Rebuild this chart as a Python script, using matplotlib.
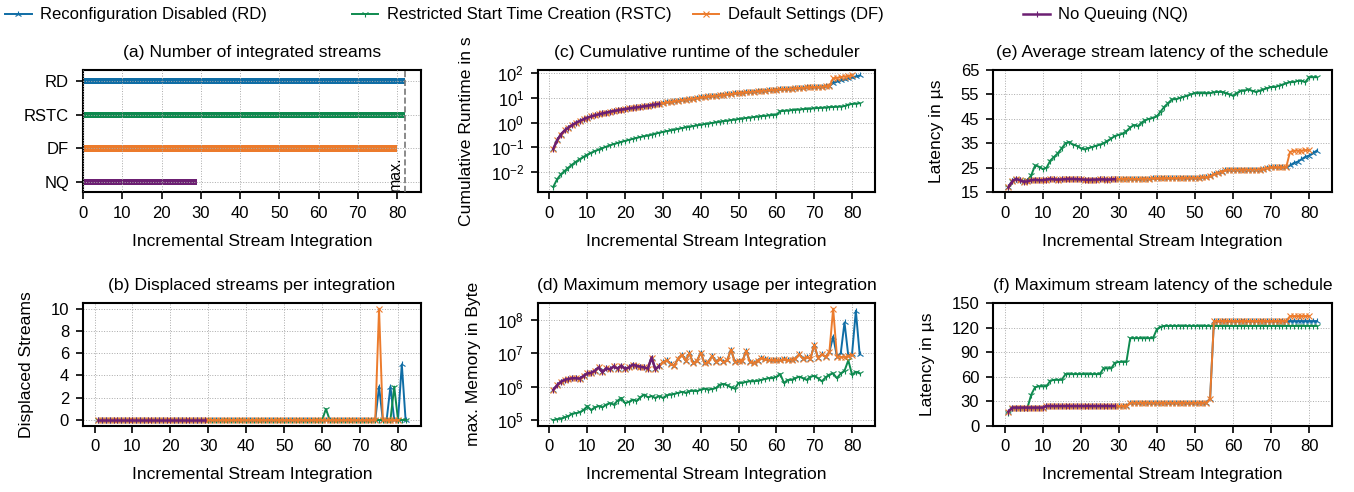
import numpy as np
from matplotlib import pyplot as plt
from matplotlib import font_manager
from matplotlib.ticker import NullLocator

# the reference uses a narrow Helvetica-like face
installed = {f.name for f in font_manager.fontManager.ttflist}
if 'Liberation Sans Narrow' in installed:
    plt.rcParams['font.family'] = ['Liberation Sans Narrow', 'DejaVu Sans']
    fs, fs_tick, fs_leg = 15.3, 14.6, 14.6
else:
    plt.rcParams['font.family'] = ['Liberation Sans', 'DejaVu Sans']
    fs, fs_tick, fs_leg = 12.6, 12, 12
plt.rcParams['font.size'] = fs

# names / colours
labels = ['Reconfiguration Disabled (RD)', 'Restricted Start Time Creation (RSTC)',
          'Default Settings (DF)', 'No Queuing (NQ)']
short = ['RD', 'RSTC', 'DF', 'NQ']
colors = ['#0f6da5', '#0e8a4f', '#ec7b2c', '#6c1f72']
markers = ['2', '1', 'x', '|']

# (a) number of integrated streams
integrated = [82, 82, 80, 29]
max_streams = 82

# (b) displaced streams per integration
rd_disp = [0]*74 + [3, 0, 0, 3, 0, 0, 5, 0]
rstc_disp = [0]*60 + [1] + [0]*17 + [3] + [0]*3
df_disp = [0]*74 + [10] + [0]*5
nq_disp = [0]*29

# (c) cumulative runtime in s
df_runtime = [0.085, 0.19, 0.33, 0.48, 0.63, 0.8, 0.98, 1.17, 1.37, 1.58,
              1.78, 1.98, 2.17, 2.36, 2.56, 2.76, 2.96, 3.15, 3.35, 3.55,
              3.75, 3.95, 4.15, 4.36, 4.6, 4.85, 5.15, 5.45, 5.8, 6.2,
              6.6, 7.0, 7.4, 7.8, 8.2, 8.6, 9.0, 9.5, 10.0, 10.5,
              11.0, 11.5, 12.0, 12.5, 13.0, 13.5, 14.0, 14.6, 15.2, 15.8,
              16.4, 17.0, 17.6, 18.2, 18.8, 19.4, 20.0, 20.6, 21.2, 21.8,
              22.4, 23.0, 23.6, 24.2, 24.8, 25.4, 26.0, 26.6, 27.2, 27.8,
              28.4, 29.0, 29.6, 30.2,
              62, 66, 70, 74, 78, 82]
rd_runtime = df_runtime[:74] + [42, 47, 52, 57, 62, 68, 75, 82]
nq_runtime = df_runtime[:29]
rstc_runtime = [0.0025, 0.005, 0.008, 0.011, 0.015, 0.02, 0.026, 0.033, 0.041, 0.05,
                0.06, 0.07, 0.081, 0.093, 0.106, 0.12, 0.135, 0.15, 0.166, 0.183,
                0.2, 0.22, 0.24, 0.26, 0.28, 0.3, 0.33, 0.36, 0.39, 0.42,
                0.45, 0.48, 0.52, 0.56, 0.6, 0.64, 0.68, 0.72, 0.77, 0.82,
                0.87, 0.92, 0.97, 1.02, 1.08, 1.14, 1.2, 1.26, 1.32, 1.4,
                1.47, 1.54, 1.61, 1.68, 1.75, 1.82, 1.89, 1.96, 2.03, 2.1,
                2.9, 3.0, 3.1, 3.2, 3.3, 3.4, 3.5, 3.6, 3.7, 3.8,
                3.9, 4.0, 4.1, 4.2, 4.3, 4.4, 4.5, 4.7, 5.4, 5.7,
                5.9, 6.1]

# (d) max memory per integration, in MB (1e6 byte)
df_mem = [0.8, 1.1, 1.4, 1.6, 1.7, 1.8, 1.8, 1.75, 2.1, 2.5,
          2.6, 3.0, 3.8, 2.7, 3.6, 3.3, 4.1, 3.5, 4.3, 3.4,
          3.8, 4.6, 4.2, 4.0, 3.8, 3.5, 7.5, 3.3, 4.2, 5.5,
          6.2, 4.8, 4.2, 7.0, 9.2, 6.0, 10.0, 5.0, 6.0, 10.5,
          5.0, 5.5, 8.3, 5.5, 7.0, 5.5, 6.2, 13.0, 5.5, 6.0,
          5.8, 12.0, 5.5, 5.2, 6.0, 7.3, 6.6, 6.4, 6.2, 6.2,
          6.2, 6.6, 6.2, 6.5, 7.0, 9.3, 7.0, 7.8, 7.0, 18.0,
          7.3, 9.3, 7.8, 11.0, 220.0, 8.0, 7.8, 7.8, 8.3, 9.0]
rd_mem = df_mem[:74] + [32.0, 8.0, 10.0, 85.0, 8.5, 9.8, 190.0, 9.5]
nq_mem = df_mem[:29]
rstc_mem = [0.10, 0.105, 0.11, 0.12, 0.13, 0.155, 0.16, 0.17, 0.20, 0.26,
            0.20, 0.24, 0.26, 0.24, 0.29, 0.32, 0.29, 0.38, 0.46, 0.32,
            0.35, 0.41, 0.37, 0.48, 0.58, 0.48, 0.52, 0.46, 0.52, 0.46,
            0.55, 0.58, 0.61, 0.65, 0.70, 0.65, 0.73, 0.76, 0.73, 0.82,
            0.88, 0.82, 0.85, 0.91, 1.15, 1.2, 1.1, 0.95, 0.88, 1.3,
            1.3, 1.4, 1.45, 1.45, 1.5, 1.6, 1.7, 1.8, 1.8, 2.0,
            2.4, 1.3, 1.6, 1.6, 1.8, 2.0, 1.8, 1.6, 2.0, 2.1,
            1.8, 1.45, 1.9, 2.3, 2.5, 1.8, 2.5, 3.0, 6.2, 2.3,
            2.8, 2.5]

# (e) average stream latency in us
df_avg = [17, 19.5, 20.5, 20, 19.3, 19.5, 20, 20.2, 20, 20,
          20.2, 20.5, 20.3, 20.2, 20.3, 20.4, 20.5, 20.5, 20.4, 20.3,
          20.2, 20.1, 20.2, 20.2, 20.3, 20.3, 20.2, 20.3, 20.4, 20.5,
          20.5, 20.6, 20.6, 20.5, 20.5, 20.6, 20.6, 20.6, 20.7, 20.7,
          20.7, 20.8, 20.8, 20.8, 20.9, 20.9, 20.9, 21.0, 21.0, 21.0,
          21.0, 21.1, 21.2, 21.5, 22.5, 23.0, 23.5, 24.0, 24.3, 24.3,
          24.3, 24.3, 24.3, 24.3, 24.3, 24.3, 24.3, 24.5, 25.0, 25.2,
          25.2, 25.2, 25.2, 25.3, 31.5, 32.0, 32.0, 32.0, 32.2, 32.2]
rd_avg = df_avg[:74] + [26.0, 27.0, 27.5, 28.5, 29.5, 30.0, 31.0, 32.0]
nq_avg = df_avg[:29]
rstc_avg = [17, 19.5, 20.5, 20, 19.5, 20, 22, 26, 25.5, 24.5,
            25, 28, 29.5, 31, 33, 35, 35.5, 34.5, 34, 33,
            32.5, 33, 33.5, 34, 34.5, 35, 36, 37, 38, 38.5,
            39, 40, 41.5, 42.5, 42, 43.5, 44.5, 45, 45.5, 46,
            48, 50, 51.5, 53, 53, 53.5, 54, 54.5, 55, 55.5,
            55.5, 55.5, 55.5, 55.5, 55.8, 56, 56, 55.5, 55, 54.5,
            55.5, 56.5, 56.5, 57, 56.5, 56, 56.5, 57, 57.5, 58,
            58, 58.5, 59, 59.5, 60, 60, 60.5, 60.5, 60, 62,
            62, 62]

# (f) maximum stream latency in us
df_max = [17] + [22]*9 + [24]*22 + [28]*21 + [33] + [128]*20 + [134]*6
rd_max = df_max[:74] + [128]*8
nq_max = df_max[:29]
rstc_max = [16, 22, 22, 22, 22, 22, 38, 47, 48, 48, 48, 55, 56, 56, 56,
            63, 63, 63, 63, 63, 63, 63, 63, 63, 63, 70, 70, 70, 77, 78, 78, 78,
            107, 107, 107, 107, 107, 107, 107, 118, 121] + [122]*41


def style(ax, title):
    ax.set_title(title, fontsize=fs, pad=9.5)
    ax.grid(True, linestyle=':', linewidth=0.7, color='#aaaaaa')
    for s in ax.spines.values():
        s.set_linewidth(1.5)
    ax.tick_params(direction='out', length=5, width=1.2, labelsize=fs_tick, pad=5)
    ax.xaxis.labelpad = 9
    ax.yaxis.labelpad = 12


def lines(ax, series, log=False):
    for i, ys in enumerate(series):
        xs = np.arange(1, len(ys) + 1)
        ax.plot(xs, ys, color=colors[i], marker=markers[i], markersize=5,
                markeredgewidth=0.8, linewidth=1.4 if i < 3 else 1.8, label=labels[i])
    if log:
        ax.set_yscale('log')
        ax.yaxis.set_minor_locator(NullLocator())
    ax.set_xticks(range(0, 81, 10))
    ax.set_xlabel('Incremental Stream Integration')


fig = plt.figure(figsize=(13.54, 4.92), dpi=100)
top_b, bot_b, h = 0.609, 0.135, 0.249
ax_a = fig.add_axes([0.0613, top_b, 0.2496, h])
ax_b = fig.add_axes([0.0613, bot_b, 0.2496, h])
ax_c = fig.add_axes([0.3973, top_b, 0.2489, h])
ax_d = fig.add_axes([0.3973, bot_b, 0.2489, h])
ax_e = fig.add_axes([0.7334, top_b, 0.2504, h])
ax_f = fig.add_axes([0.7334, bot_b, 0.2504, h])

# (a)
ypos = np.arange(len(short))
ax_a.barh(ypos, integrated, height=0.18, color=colors, zorder=1)
ax_a.set_yticks(ypos)
ax_a.set_yticklabels(short)
ax_a.set_ylim(3.3, -0.33)
ax_a.set_xlim(0, 86.1)
ax_a.set_xticks(range(0, 81, 10))
ax_a.axvline(max_streams, color='#777777', linestyle='--', linewidth=1.2, zorder=3)
ax_a.text(max_streams - 0.4, 3.25, 'max.', rotation=90, ha='right', va='bottom',
          fontsize=fs_tick * 0.95)
ax_a.set_xlabel('Incremental Stream Integration')
style(ax_a, '(a) Number of integrated streams')
ax_a.yaxis.labelpad = 4
ax_a.set_axisbelow(False)

# (b)
lines(ax_b, [rd_disp, rstc_disp, df_disp, nq_disp])
ax_b.set_yticks(range(0, 11, 2))
ax_b.set_ylabel('Displaced Streams')
style(ax_b, '(b) Displaced streams per integration')

# (c)
lines(ax_c, [rd_runtime, rstc_runtime, df_runtime, nq_runtime], log=True)
ax_c.set_yticks([1e-2, 1e-1, 1e0, 1e1, 1e2])
ax_c.set_ylabel('Cumulative Runtime in s')
style(ax_c, '(c) Cumulative runtime of the scheduler')

# (d)
lines(ax_d, [np.array(rd_mem)*1e6, np.array(rstc_mem)*1e6,
             np.array(df_mem)*1e6, np.array(nq_mem)*1e6], log=True)
ax_d.set_yticks([1e5, 1e6, 1e7, 1e8])
ax_d.set_ylabel('max. Memory in Byte')
style(ax_d, '(d) Maximum memory usage per integration')

# (e)
lines(ax_e, [rd_avg, rstc_avg, df_avg, nq_avg])
ax_e.set_ylim(15, 65)
ax_e.set_yticks(range(15, 66, 10))
ax_e.set_ylabel('Latency in µs')
style(ax_e, '(e) Average stream latency of the schedule')

# (f)
lines(ax_f, [rd_max, rstc_max, df_max, nq_max])
ax_f.set_ylim(0, 150)
ax_f.set_yticks(range(0, 151, 30))
ax_f.set_ylabel('Latency in µs')
style(ax_f, '(f) Maximum stream latency of the schedule')

# legend entries sit at fixed spots along the top edge
handles, _ = ax_b.get_legend_handles_labels()
leg_x = [0.0, 0.256, 0.508, 0.752]
for hnd, lab, x in zip(handles, labels, leg_x):
    fig.legend([hnd], [lab], loc='upper left', bbox_to_anchor=(x, 0.995),
               frameon=False, handlelength=1.6, handletextpad=0.5,
               borderaxespad=0.1, borderpad=0.2, fontsize=fs_leg)

fig.savefig('out.png', dpi=100)
